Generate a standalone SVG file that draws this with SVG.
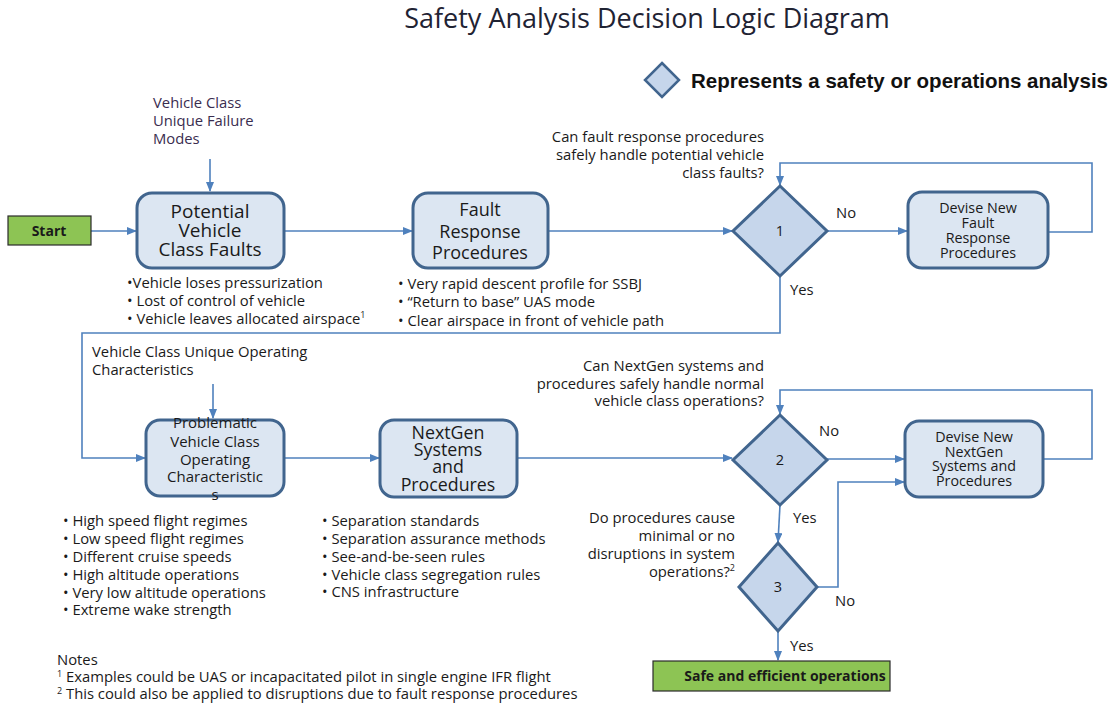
<svg xmlns="http://www.w3.org/2000/svg" width="1114" height="705" viewBox="0 0 1114 705">
<defs>
<marker id="ah" markerWidth="10" markerHeight="8" refX="9" refY="4" orient="auto" markerUnits="userSpaceOnUse">
<path d="M0,0 L10,4 L0,8 z" fill="#4F81BD"/>
</marker>
<style>
.t{font-family:"Open Sans","Liberation Sans",Arial,sans-serif;fill:#1a1a1a}
.s{font-size:14.8px}
.d{font-size:14.3px;text-anchor:middle}
.box{fill:#DCE6F2;stroke:#41658E;stroke-width:3}
.dia{fill:#C6D6EB;stroke:#41658E;stroke-width:3}
.grn{fill:#8DC454;stroke:#2b2b2b;stroke-width:1.2}
.c{fill:none;stroke:#4F81BD;stroke-width:1.6}
.bt{text-anchor:middle}
</style>
</defs>
<rect width="1114" height="705" fill="#ffffff"/>
<text class="t" x="647" y="28" font-size="27" text-anchor="middle" style="fill:#1f2333">Safety Analysis Decision Logic Diagram</text>

<g id="legend">
<polygon class="dia" points="662,63 679,80 662,97 645,80" style="stroke-width:2.5"/>
<text x="691" y="88" font-family="Liberation Sans,Arial,sans-serif" font-size="20.5" font-weight="bold" fill="#111">Represents a safety or operations analysis</text>
</g>

<g id="connectors">
<path class="c" d="M210,159 V191" marker-end="url(#ah)"/>
<path class="c" d="M91,231 H136" marker-end="url(#ah)"/>
<path class="c" d="M284,231 H412" marker-end="url(#ah)"/>
<path class="c" d="M548,231 H732" marker-end="url(#ah)"/>
<path class="c" d="M827,231 H907" marker-end="url(#ah)"/>
<path class="c" d="M1048,232 H1092 V163 H780 V185" marker-end="url(#ah)"/>
<path class="c" d="M780,276 V333 H82 V458 H145" marker-end="url(#ah)"/>
<path class="c" d="M213,384 V418" marker-end="url(#ah)"/>
<path class="c" d="M284,458 H379" marker-end="url(#ah)"/>
<path class="c" d="M517,458 H732" marker-end="url(#ah)"/>
<path class="c" d="M827,459 H904" marker-end="url(#ah)"/>
<path class="c" d="M1043,459 H1092 V390 H780 V414" marker-end="url(#ah)"/>
<path class="c" d="M780,505 L778,542" marker-end="url(#ah)"/>
<path class="c" d="M817,587 H838 V482 H904" marker-end="url(#ah)"/>
<path class="c" d="M778,631 V660" marker-end="url(#ah)"/>
</g>

<g id="start">
<rect class="grn" x="8" y="216" width="83" height="29"/>
<text class="t" x="49" y="236" font-size="14" font-weight="bold" text-anchor="middle">Start</text>
</g>

<g id="failure-modes">
<text class="t s" x="153" y="108" style="fill:#3a2d4f">Vehicle Class</text>
<text class="t s" x="153" y="126" style="fill:#3a2d4f">Unique Failure</text>
<text class="t s" x="153" y="144" style="fill:#3a2d4f">Modes</text>
</g>

<g id="potential-faults">
<rect class="box" x="137" y="193" width="147" height="75" rx="15"/>
<text class="t bt" x="210" y="218" font-size="19">Potential</text>
<text class="t bt" x="210" y="237" font-size="19">Vehicle</text>
<text class="t bt" x="210" y="256" font-size="19">Class Faults</text>
<text class="t s" x="127" y="288">•Vehicle loses pressurization</text>
<text class="t s" x="127" y="306">• Lost of control of vehicle</text>
<text class="t s" x="127" y="324">• Vehicle leaves allocated airspace<tspan font-size="9" dy="-6">1</tspan></text>
</g>

<g id="fault-response">
<rect class="box" x="413" y="193" width="135" height="75" rx="15"/>
<text class="t bt" x="480" y="216" font-size="18">Fault</text>
<text class="t bt" x="480" y="238" font-size="18">Response</text>
<text class="t bt" x="480" y="259" font-size="18">Procedures</text>
<text class="t s" x="398" y="289">• Very rapid descent profile for SSBJ</text>
<text class="t s" x="398" y="307">• “Return to base”  UAS mode</text>
<text class="t s" x="398" y="326">• Clear airspace in front of vehicle path</text>
</g>

<g id="decision-1">
<polygon class="dia" points="780,186 827,231 780,276 733,231"/>
<text class="t" x="780" y="236" font-size="14.5" text-anchor="middle">1</text>
<text class="t s" x="764" y="142" text-anchor="end">Can fault response procedures</text>
<text class="t s" x="764" y="160" text-anchor="end">safely handle potential vehicle</text>
<text class="t s" x="764" y="178" text-anchor="end">class faults?</text>
<text class="t s" x="836" y="218">No</text>
<text class="t s" x="790" y="295">Yes</text>
</g>

<g id="devise-fault">
<rect class="box" x="908" y="192" width="140" height="76" rx="14"/>
<text class="t d" x="978" y="213">Devise New</text>
<text class="t d" x="978" y="228">Fault</text>
<text class="t d" x="978" y="243">Response</text>
<text class="t d" x="978" y="258">Procedures</text>
</g>

<g id="operating-chars">
<text class="t s" x="92" y="357">Vehicle Class Unique  Operating</text>
<text class="t s" x="92" y="375">Characteristics</text>
</g>

<g id="problematic">
<rect class="box" x="146" y="420" width="138" height="76" rx="14"/>
<text class="t" x="215" y="428" font-size="15" text-anchor="middle">Problematic</text>
<text class="t" x="215" y="447" font-size="15" text-anchor="middle">Vehicle Class</text>
<text class="t" x="215" y="465" font-size="15" text-anchor="middle">Operating</text>
<text class="t" x="215" y="482" font-size="15" text-anchor="middle">Characteristic</text>
<text class="t" x="215" y="500" font-size="15" text-anchor="middle">s</text>
<text class="t s" x="63" y="526">• High speed flight regimes</text>
<text class="t s" x="63" y="544">• Low speed flight regimes</text>
<text class="t s" x="63" y="562">• Different cruise speeds</text>
<text class="t s" x="63" y="580">• High altitude operations</text>
<text class="t s" x="63" y="598">• Very low altitude operations</text>
<text class="t s" x="63" y="615">• Extreme wake strength</text>
</g>

<g id="nextgen">
<rect class="box" x="380" y="420" width="137" height="77" rx="14"/>
<text class="t bt" x="448" y="439" font-size="17.8">NextGen</text>
<text class="t bt" x="448" y="456" font-size="17.8">Systems</text>
<text class="t bt" x="448" y="473" font-size="17.8">and</text>
<text class="t bt" x="448" y="491" font-size="17.8">Procedures</text>
<text class="t s" x="322" y="526">• Separation standards</text>
<text class="t s" x="322" y="544">• Separation assurance methods</text>
<text class="t s" x="322" y="562">• See-and-be-seen rules</text>
<text class="t s" x="322" y="580">• Vehicle class segregation rules</text>
<text class="t s" x="322" y="597">• CNS infrastructure</text>
</g>

<g id="decision-2">
<polygon class="dia" points="780,415 827,460 780,505 733,460"/>
<text class="t" x="780" y="465" font-size="14.5" text-anchor="middle">2</text>
<text class="t s" x="764" y="371" text-anchor="end">Can NextGen systems and</text>
<text class="t s" x="764" y="389" text-anchor="end">procedures safely handle normal</text>
<text class="t s" x="764" y="406" text-anchor="end">vehicle class operations?</text>
<text class="t s" x="819" y="436">No</text>
<text class="t s" x="793" y="523">Yes</text>
</g>

<g id="devise-nextgen">
<rect class="box" x="905" y="421" width="138" height="76" rx="14"/>
<text class="t d" x="974" y="442">Devise New</text>
<text class="t d" x="974" y="457">NextGen</text>
<text class="t d" x="974" y="471">Systems and</text>
<text class="t d" x="974" y="486">Procedures</text>
</g>

<g id="decision-3">
<polygon class="dia" points="778,543 817,587 778,631 739,587"/>
<text class="t" x="778" y="592" font-size="14.5" text-anchor="middle">3</text>
<text class="t s" x="735" y="523" text-anchor="end">Do procedures cause</text>
<text class="t s" x="735" y="541" text-anchor="end">minimal or no</text>
<text class="t s" x="735" y="559" text-anchor="end">disruptions in system</text>
<text class="t s" x="735" y="577" text-anchor="end">operations?<tspan font-size="9" dy="-6">2</tspan></text>
<text class="t s" x="835" y="606">No</text>
<text class="t s" x="790" y="651">Yes</text>
</g>

<g id="safe-ops">
<rect class="grn" x="653" y="661" width="237" height="30"/>
<text class="t" x="785" y="681" font-size="14" font-weight="bold" text-anchor="middle">Safe and efficient operations</text>
</g>

<g id="notes">
<text class="t s" x="57" y="665">Notes</text>
<text class="t s" x="57" y="682"><tspan font-size="9" dy="-5">1</tspan><tspan dy="5"> Examples could be UAS or incapacitated pilot in single engine IFR flight</tspan></text>
<text class="t s" x="57" y="699"><tspan font-size="9" dy="-5">2</tspan><tspan dy="5"> This could also be applied to disruptions due to fault response procedures</tspan></text>
</g>
</svg>
